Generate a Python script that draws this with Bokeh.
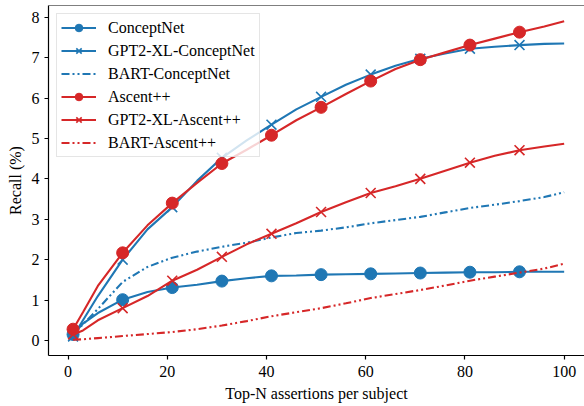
from bokeh.plotting import figure
from bokeh.models import Range1d, Legend, LegendItem, Span, FixedTicker
from bokeh.embed import file_html
from bokeh.resources import INLINE

# ---- data ----
top_n = [1, 3, 6, 11, 16, 21, 26, 31, 36, 41, 46, 51, 56, 61, 66, 71, 76, 81, 86, 91, 96, 100]

conceptnet = [0.15, 0.42, 0.68, 1.01, 1.20, 1.31, 1.38, 1.47, 1.54, 1.60, 1.61, 1.63,
              1.64, 1.65, 1.66, 1.67, 1.68, 1.69, 1.69, 1.70, 1.70, 1.70]
gpt2_conceptnet = [0.10, 0.50, 1.10, 2.00, 2.75, 3.30, 3.95, 4.52, 4.95, 5.34, 5.72, 6.03,
                   6.33, 6.58, 6.80, 6.97, 7.10, 7.22, 7.27, 7.31, 7.34, 7.35]
bart_conceptnet = [0.15, 0.40, 0.78, 1.45, 1.82, 2.05, 2.20, 2.32, 2.42, 2.55, 2.66, 2.72,
                   2.80, 2.90, 2.98, 3.06, 3.17, 3.28, 3.36, 3.45, 3.55, 3.67]
ascent = [0.28, 0.70, 1.35, 2.17, 2.85, 3.40, 3.90, 4.38, 4.72, 5.08, 5.45, 5.77,
          6.10, 6.42, 6.72, 6.95, 7.13, 7.31, 7.47, 7.63, 7.77, 7.90]
gpt2_ascent = [0.15, 0.25, 0.50, 0.80, 1.10, 1.48, 1.75, 2.07, 2.38, 2.64, 2.90, 3.18,
               3.42, 3.65, 3.82, 4.00, 4.20, 4.40, 4.57, 4.71, 4.80, 4.87]
bart_ascent = [0.02, 0.03, 0.06, 0.11, 0.16, 0.21, 0.28, 0.37, 0.48, 0.60, 0.70, 0.80,
               0.92, 1.05, 1.15, 1.25, 1.36, 1.48, 1.58, 1.68, 1.78, 1.90]

x_ticks = [0, 20, 40, 60, 80, 100]
y_ticks = [0, 1, 2, 3, 4, 5, 6, 7, 8]

BLUE = "#1f77b4"
RED = "#d62728"
FONT = "Liberation Serif, Times New Roman, serif"
FS = "16px"

Y_TOP = 8.29
p = figure(width=584, height=406, output_backend="svg", toolbar_location=None,
           x_range=Range1d(-3.95, 104.1), y_range=Range1d(-0.371, Y_TOP),
           min_border_left=48, min_border_right=0, min_border_top=5, min_border_bottom=51)
p.outline_line_color = None
p.grid.visible = False
p.background_fill_color = "white"
p.border_fill_color = "white"

for ax in (p.xaxis[0], p.yaxis[0]):
    ax.axis_line_width = 1.2
    ax.major_tick_in = 0
    ax.major_tick_out = 4
    ax.major_tick_line_width = 1.2
    ax.minor_tick_line_color = None
    ax.major_label_text_font = FONT
    ax.major_label_text_font_size = FS
    ax.major_label_text_color = "black"
    ax.axis_label_text_font = FONT
    ax.axis_label_text_font_size = FS
    ax.axis_label_text_font_style = "normal"
    ax.axis_label_text_color = "black"

p.xaxis.ticker = FixedTicker(ticks=x_ticks)
p.yaxis.ticker = FixedTicker(ticks=y_ticks)
p.xaxis.axis_label = "Top-N assertions per subject"
p.yaxis.axis_label = "Recall (%)"
p.xaxis.major_label_standoff = 6
p.yaxis.major_label_standoff = 5
p.xaxis.axis_label_standoff = 5
p.yaxis.axis_label_standoff = 5

p.add_layout(Span(location=Y_TOP, dimension="width", line_color="black", line_width=1.2))

DASHDOT = "8 3 2 3 2 3"

series = [
    ("ConceptNet", conceptnet, BLUE, "solid", "circle"),
    ("GPT2-XL-ConceptNet", gpt2_conceptnet, BLUE, "solid", "x"),
    ("BART-ConceptNet", bart_conceptnet, BLUE, DASHDOT, None),
    ("Ascent++", ascent, RED, "solid", "circle"),
    ("GPT2-XL-Ascent++", gpt2_ascent, RED, "solid", "x"),
    ("BART-Ascent++", bart_ascent, RED, DASHDOT, None),
]

items = []
for label, ys, color, dash, marker in series:
    rs = [p.line(top_n, ys, line_color=color, line_width=2.1, line_dash=dash)]
    if marker:
        mx = [x for x in top_n if (x - 1) % 10 == 0]
        my = [y for x, y in zip(top_n, ys) if (x - 1) % 10 == 0]
        if marker == "circle":
            rs.append(p.scatter(mx, my, marker="circle", size=12, fill_color=color,
                                line_color=color))
        else:
            rs.append(p.scatter(mx, my, marker="x", size=14, line_color=color,
                                line_width=1.6))
    items.append(LegendItem(label=label, renderers=rs))

legend = Legend(items=items, location="top_left")
legend.margin = 8
legend.padding = 4
legend.spacing = 4
legend.glyph_height = 19
legend.label_height = 19
legend.glyph_width = 35
legend.label_standoff = 12
legend.label_text_font = FONT
legend.label_text_font_size = FS
legend.label_text_color = "black"
legend.border_line_color = "#cccccc"
legend.border_line_width = 1
legend.background_fill_alpha = 0.8
p.add_layout(legend)

open("out.html", "w").write(file_html(p, INLINE))
